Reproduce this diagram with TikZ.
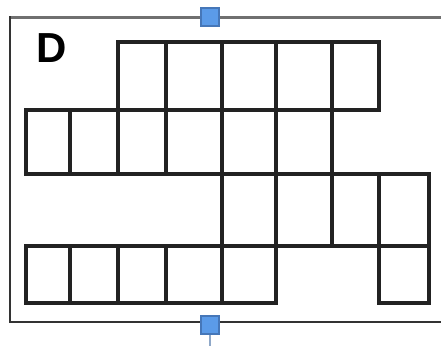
\documentclass[tikz,border=0pt]{standalone}
\usepackage{fontspec}
\setmainfont{Liberation Sans}
\definecolor{gridc}{HTML}{222222}
\definecolor{framegray}{HTML}{707070}
\definecolor{framedark}{HTML}{333333}
\definecolor{hfill}{HTML}{5B9BE8}
\definecolor{hdraw}{HTML}{4677B8}
\definecolor{stemc}{HTML}{8FA8C8}
\begin{document}
\begin{tikzpicture}[x=1pt,y=-1pt,
  cell/.style={draw=gridc,line width=3.5pt,line join=miter},
  handle/.style={draw=hdraw,fill=hfill,line width=1.8pt,minimum size=18pt,inner sep=0pt,rectangle}]
\useasboundingbox (0,0) rectangle (441,346);
% frame
\draw[framegray,line width=3pt] (10,17) -- (441,17);
\draw[framedark,line width=2.6pt] (10,16) -- (10,322) -- (441,322);
% label
\node[font=\fontsize{42}{42}\selectfont\bfseries,inner sep=0pt,anchor=center] (lblD) at (52,48) {D};
% row 1
\foreach \a/\b in {118/166,166/222,222/276,276/332,332/379}
  \draw[cell] (\a,42) rectangle (\b,110);
% row 2
\foreach \a/\b in {26/70,70/118,118/166,166/222,222/276,276/332}
  \draw[cell] (\a,110) rectangle (\b,174);
% row 3
\foreach \a/\b in {222/276,276/332,332/379,379/429}
  \draw[cell] (\a,174) rectangle (\b,246);
% row 4
\foreach \a/\b in {26/70,70/118,118/166,166/222,222/276,379/429}
  \draw[cell] (\a,246) rectangle (\b,303);
% handles
\coordinate (stemend) at (210,346);
\node[handle] (htop) at (210,17) {};
\node[handle] (hbot) at (210,325) {};
\draw[stemc,line width=2pt] (hbot.south) -- (stemend);
\end{tikzpicture}
\end{document}
